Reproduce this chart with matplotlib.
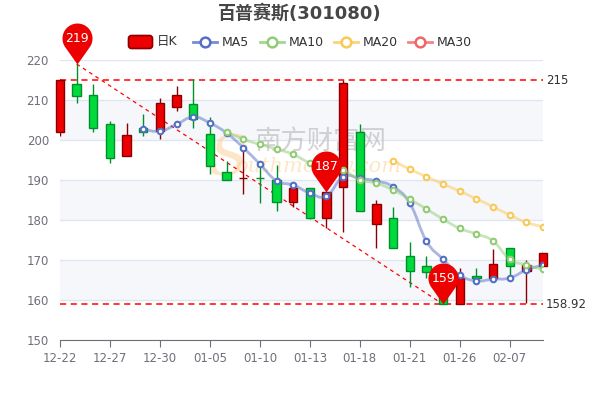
import matplotlib
matplotlib.use("Agg")
import matplotlib.pyplot as plt
import matplotlib.patches as mpatches
from matplotlib.path import Path
import numpy as np

plt.rcParams['font.family'] = ['DejaVu Sans', 'Noto Sans CJK SC']

# data
title = "百普赛斯(301080)"
tick_labels = ["12-22", "12-27", "12-30", "01-05", "01-10",
               "01-13", "01-18", "01-21", "01-26", "02-07"]

open_ = [201.9, 214.0, 211.25, 204.0, 196.1, 203.1, 202.25, 208.3, 209.0, 201.4,
         192.1, 190.5, 190.6, 190.0, 184.4, 188.1, 180.4, 188.2, 202.1, 179.1,
         180.6, 171.1, 168.5, 164.5, 158.92, 166.1, 165.4, 172.9, 167.25, 168.5]
close = [215.0, 211.1, 203.1, 195.6, 201.25, 202.1, 209.3, 211.25, 205.2, 193.5,
         190.0, 190.6, 190.5, 184.4, 188.1, 180.4, 186.9, 214.3, 182.3, 184.0,
         173.1, 167.25, 167.1, 158.92, 165.4, 165.6, 168.9, 168.5, 168.75, 171.8]
high = [215.2, 219.0, 213.9, 204.8, 204.2, 206.4, 210.4, 213.5, 215.2, 205.7,
        194.75, 197.5, 193.5, 193.75, 188.75, 188.1, 187.0, 215.0, 204.0, 185.0,
        183.2, 174.4, 171.0, 166.0, 168.1, 168.1, 172.75, 172.9, 170.0, 172.25]
low = [201.1, 209.3, 202.1, 194.2, 196.0, 201.1, 200.2, 207.25, 202.9, 191.4,
       190.0, 186.4, 184.2, 182.25, 183.3, 180.2, 177.9, 177.1, 182.3, 172.9,
       173.1, 163.3, 165.4, 158.92, 159.0, 163.9, 165.4, 165.8, 159.2, 168.5]

ma5 = [None] * 5 + [202.7, 202.2, 203.9, 205.75, 204.25, 201.75, 198.1, 194.0,
                    189.8, 188.75, 186.75, 186.0, 190.8, 190.4, 189.75, 188.3,
                    184.2, 174.75, 170.2, 166.25, 164.8, 165.2, 165.5, 167.5, 168.75]
ma10 = [None] * 10 + [202.1, 200.2, 198.9, 197.75, 196.4, 194.3, 193.4, 192.4,
                      190.1, 189.2, 187.5, 185.2, 182.75, 180.2, 177.9, 176.5,
                      174.75, 170.2, 168.75, 167.7]
ma20 = [None] * 20 + [194.8, 192.7, 190.8, 189.0, 187.2, 185.3, 183.3, 181.25,
                      179.4, 178.3]

line_max = 215
line_min = 158.92
pin_idx = [1, 16, 23]
pin_val = [high[1], close[16], low[23]]

UP, UP_EDGE = '#ec0000', '#8A0000'
DOWN, DOWN_EDGE = '#00da3c', '#008F28'
MA_COLORS = {'MA5': '#5470c6', 'MA10': '#91cc75', 'MA20': '#fac858', 'MA30': '#ee6666'}

fig = plt.figure(figsize=(6, 4), dpi=100)
ax = fig.add_axes([60 / 600, 1 - 340 / 400, 483 / 600, 280 / 400])
ax.set_xlim(0, len(open_) - 1)
ax.set_ylim(150, 220)

# background bands and grid
for lo in (160, 180, 200):
    ax.axhspan(lo, lo + 10, color='#F5F7FB', zorder=0, lw=0)
ax.set_yticks(range(150, 221, 10))
ax.yaxis.grid(True, color='#E0E6F1', lw=1)
ax.set_axisbelow(True)
for s in ('top', 'right', 'left'):
    ax.spines[s].set_visible(False)
ax.spines['bottom'].set_color('#6E7079')
ax.tick_params(axis='y', length=0, pad=8, labelcolor='#6E7079', labelsize=8.5)
ax.set_xticks(range(0, len(open_), 3))
ax.set_xticklabels(tick_labels)
ax.tick_params(axis='x', length=5, color='#6E7079', labelcolor='#6E7079',
               labelsize=8.5, pad=4)

# watermark (behind the candles)
ax.text(228 / 600, 1 - 160 / 400, "S", fontsize=40, style='italic', family='serif',
        color='#FBD29A', alpha=0.55, ha='center', va='center', zorder=1,
        transform=fig.transFigure)
ax.text(320 / 600, 1 - 141 / 400, "南方财富网", fontsize=19, color='#b5b5b5',
        alpha=0.6, ha='center', va='center', family=['Noto Sans CJK SC'], zorder=1,
        transform=fig.transFigure)
ax.text(318 / 600, 1 - 166 / 400, "outhmoney.com", fontsize=15, style='italic',
        family='serif', color='#FBD29A', alpha=0.55, ha='center', va='center',
        zorder=1, transform=fig.transFigure)

# candles
x = np.arange(len(open_))
up = [c >= o for o, c in zip(open_, close)]
face = [UP if u else DOWN for u in up]
edge = [UP_EDGE if u else DOWN_EDGE for u in up]
ax.vlines(x, low, high, colors=edge, lw=1, zorder=3)
bottoms = [min(o, c) for o, c in zip(open_, close)]
heights = [max(abs(c - o), 0.08) for o, c in zip(open_, close)]
bars = ax.bar(x, heights, bottom=bottoms, width=0.5, color=face, edgecolor=edge,
              linewidth=1, zorder=4)
for b in bars:
    b.set_clip_on(False)


def smooth_path(xs, ys, k=0.22):
    pts = np.column_stack([xs, ys])
    verts = [pts[0]]
    codes = [Path.MOVETO]
    n = len(pts)
    for i in range(n - 1):
        p0 = pts[max(i - 1, 0)]
        p1 = pts[i]
        p2 = pts[i + 1]
        p3 = pts[min(i + 2, n - 1)]
        verts += [p1 + (p2 - p0) * k, p2 - (p3 - p1) * k, p2]
        codes += [Path.CURVE4] * 3
    return Path(verts, codes)


for name, vals in (('MA5', ma5), ('MA10', ma10), ('MA20', ma20)):
    xs = [i for i, v in enumerate(vals) if v is not None]
    ys = [v for v in vals if v is not None]
    col = MA_COLORS[name]
    ax.add_patch(mpatches.PathPatch(smooth_path(xs, ys), fill=False, edgecolor=col,
                                    lw=2, alpha=0.5, zorder=5))
    ax.plot(xs, ys, 'o', ms=4, mfc='white', mec=col, mew=1.5, zorder=6)

# mark lines
ax.axhline(line_max, color='#ff0000', ls=(0, (4, 3)), lw=1.1, zorder=2)
ax.axhline(line_min, color='#ff0000', ls=(0, (4, 3)), lw=1.1, zorder=2)
ax.plot([pin_idx[0], pin_idx[2]], [pin_val[0], pin_val[2]], color='#ff0000',
        ls=(0, (3, 3)), lw=0.9, zorder=2)
ax.annotate(f"{line_max}", xy=(1, line_max), xycoords=('axes fraction', 'data'),
            xytext=(2, 0), textcoords='offset points', va='center', fontsize=8.5,
            color='#333333', annotation_clip=False)
ax.annotate(f"{line_min}", xy=(1, line_min), xycoords=('axes fraction', 'data'),
            xytext=(2, 0), textcoords='offset points', va='center', fontsize=8.5,
            color='#333333', annotation_clip=False)

# pin markers
d = 1.73
a = np.degrees(np.arccos(1 / d))
ang = np.radians(np.linspace(-90 + a, 270 - a, 60))
pin_verts = [(np.cos(t), d + np.sin(t)) for t in ang] + [(0, 0), (np.cos(ang[0]), d + np.sin(ang[0]))]
pin_path = Path(pin_verts)
for i, v in zip(pin_idx, pin_val):
    ax.plot([i], [v], marker=pin_path, ms=59, color='#ec0000', mew=0, zorder=8,
            clip_on=False)
    ax.annotate(f"{v:.0f}", xy=(i, v), xytext=(0, 18.7), textcoords='offset points',
                ha='center', va='center', color='white', fontsize=9, zorder=9,
                annotation_clip=False)

# title and legend in pixel coordinates
ov = fig.add_axes([0, 0, 1, 1], zorder=10)
ov.set_xlim(0, 600)
ov.set_ylim(400, 0)
ov.axis('off')
ov.text(300, 13, title, ha='center', va='center', fontsize=13, fontweight='bold',
        color='#464646')
ov.add_patch(mpatches.FancyBboxPatch((130, 37), 21, 10,
                                     boxstyle='round,pad=1.5,rounding_size=3',
                                     fc=UP, ec=UP_EDGE, lw=1.2))
ov.text(157, 42, "日K", va='center', fontsize=9, color='#333333')
for name, cx in (('MA5', 205), ('MA10', 272), ('MA20', 346), ('MA30', 420)):
    col = MA_COLORS[name]
    ov.plot([cx - 12, cx + 12], [42, 42], color=col, lw=2, alpha=0.8)
    ov.plot([cx], [42], 'o', ms=7, mfc='white', mec=col, mew=1.8)
    ov.text(cx + 17, 42, name, va='center', fontsize=9, color='#333333')

fig.savefig("out.png", dpi=100)
